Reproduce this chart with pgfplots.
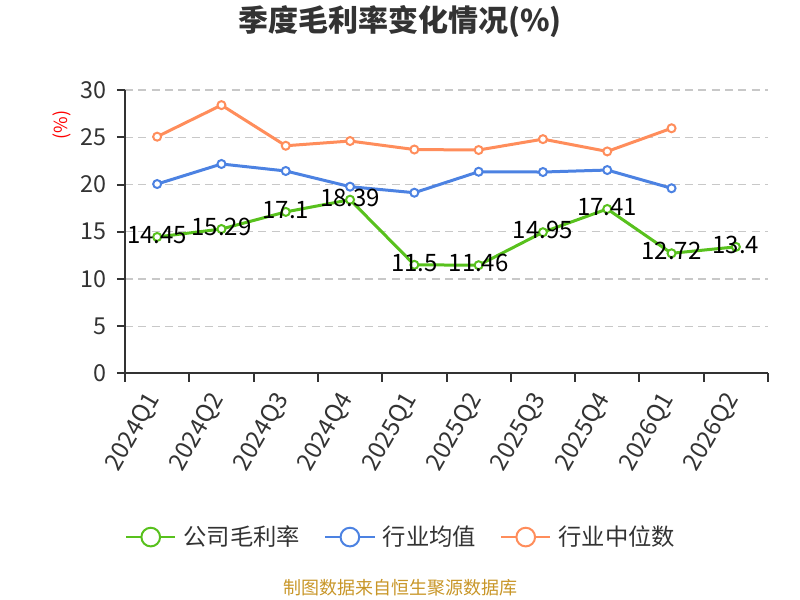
\documentclass[border=0pt]{standalone}
\usepackage{fontspec}
\setmainfont{Noto Sans CJK SC}
\usepackage{pgfplots}
\pgfplotsset{compat=1.18}
\definecolor{cgreen}{RGB}{88,193,29}
\definecolor{cblue}{RGB}{76,130,226}
\definecolor{corange}{RGB}{255,141,91}
\definecolor{ctext}{RGB}{51,51,51}
\definecolor{cgrid}{RGB}{200,200,200}
\definecolor{csrc}{RGB}{200,150,40}
\begin{document}
\begin{tikzpicture}
\path[use as bounding box] (0,0) rectangle (600pt,450pt);
\node[font=\fontsize{22.5}{26}\selectfont\bfseries, text=ctext] at (300pt,433.5pt) {季度毛利率变化情况(\%)};
\node[font=\fontsize{13.5}{16}\selectfont, text=csrc] at (300pt,9pt) {制图数据来自恒生聚源数据库};
\begin{axis}[
  at={(93.75pt,169.875pt)}, anchor=south west,
  scale only axis, width=482.25pt, height=212.625pt,
  xmin=-0.5, xmax=9.5, ymin=0, ymax=30,
  xtick={-0.5,0.5,...,9.5},
  x tick label as interval,
  xticklabels={2024Q1,2024Q2,2024Q3,2024Q4,2025Q1,2025Q2,2025Q3,2025Q4,2026Q1,2026Q2},
  ytick={0,5,...,30},
  axis x line=bottom, axis y line=left,
  axis line style={draw=ctext, line width=1.5pt, -},
  tick style={draw=ctext, line width=1.5pt},
  major tick length=6pt, tick align=outside,
  ymajorgrids,
  major grid style={draw=cgrid, line width=1.1pt, dash pattern=on 6pt off 4pt},
  /pgf/number format/assume math mode=true,
  tick label style={font=\fontsize{17.5}{20}\selectfont, text=ctext},
  y tick label style={xshift=-4.5pt},
  x tick label style={rotate=60, anchor=east, inner sep=0pt, xshift=-10pt, yshift=-3.5pt, font=\fontsize{18}{21}\selectfont},
  ylabel={(\%)},
  ylabel style={at={(axis description cs:-0.098,0.877)}, anchor=center, text=red, font=\fontsize{13.5}{16}\selectfont},
  clip=false,
  legend columns=3,
  reverse legend,
  legend style={at={(0.43,-0.577)}, anchor=center, draw=none, fill=none,
    font=\fontsize{17.5}{20}\selectfont, text=ctext,
    /tikz/every even column/.append style={column sep=16pt}},
  legend image code/.code={%
    \draw[#1, line width=1.5pt] (0pt,0pt) -- (37pt,0pt);
    \draw[#1, line width=1.5pt, fill=white] (18.5pt,0pt) circle (7pt);
    \path (40pt,0pt);},
]
\addplot[color=corange, line width=2.25pt, mark=*, mark size=3pt, mark options={fill=white, line width=1.5pt}]
 coordinates {(0,25.06) (1,28.4) (2,24.1) (3,24.6) (4,23.7) (5,23.65) (6,24.8) (7,23.5) (8,25.95)};
\addlegendentry{行业中位数}
\addplot[color=cblue, line width=2.25pt, mark=*, mark size=3pt, mark options={fill=white, line width=1.5pt}]
 coordinates {(0,20.05) (1,22.17) (2,21.43) (3,19.77) (4,19.13) (5,21.35) (6,21.32) (7,21.53) (8,19.6)};
\addlegendentry{行业均值}
\addplot[color=cgreen, line width=2.25pt, mark=*, mark size=3pt, mark options={fill=white, line width=1.5pt},
  nodes near coords,
  every node near coord/.append style={anchor=center, yshift=1.5pt, text=black, font=\fontsize{18}{21}\selectfont}]
 coordinates {(0,14.45) (1,15.29) (2,17.1) (3,18.39) (4,11.5) (5,11.46) (6,14.95) (7,17.41) (8,12.72) (9,13.4)};
\addlegendentry{公司毛利率}
\end{axis}
\end{tikzpicture}
\end{document}
